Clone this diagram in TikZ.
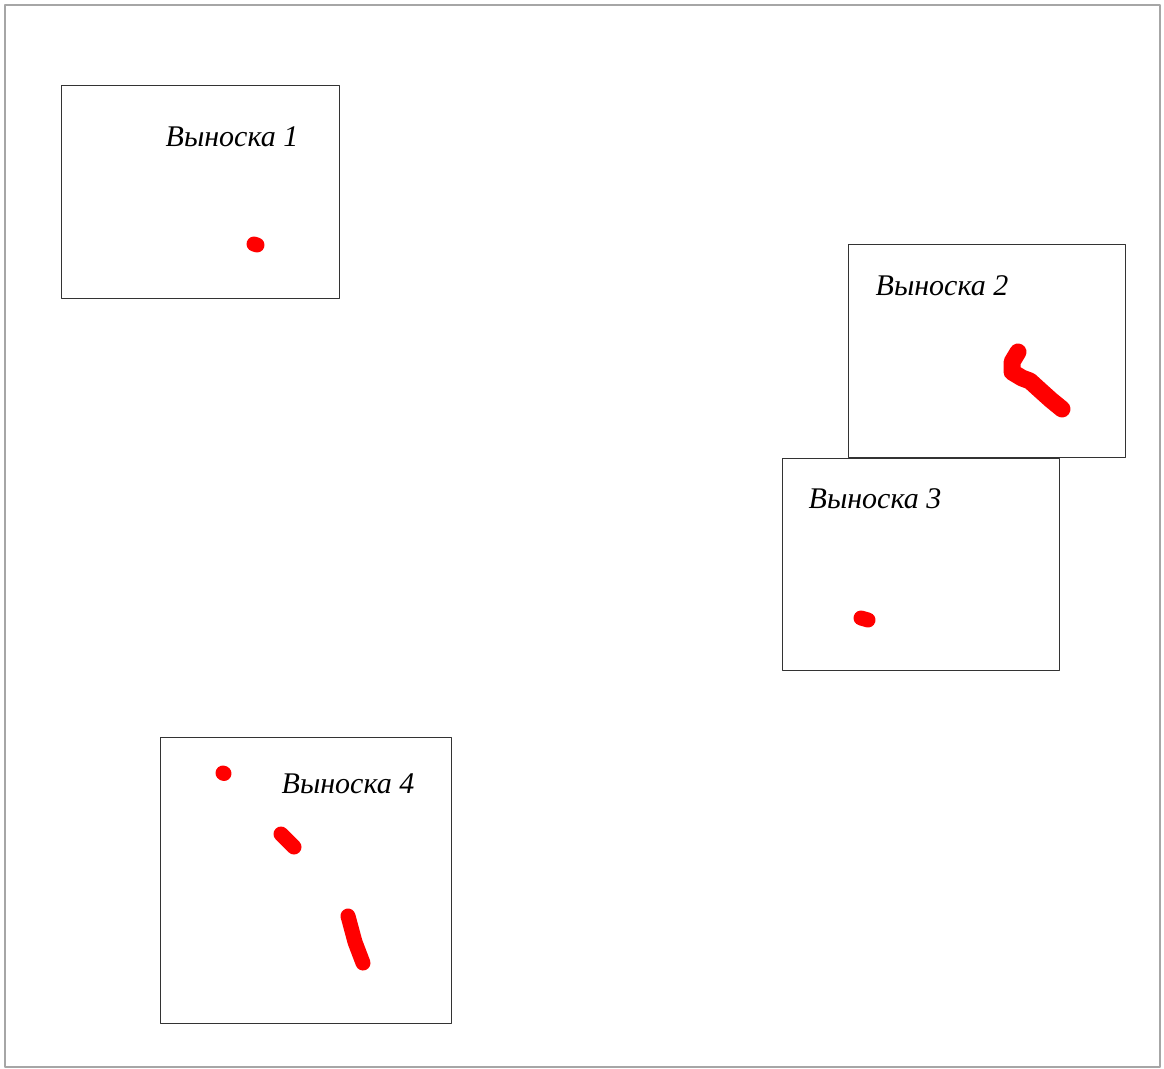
\documentclass[tikz,border=0pt]{standalone}
\usepackage{fontspec}
\setmainfont{Liberation Serif}
\begin{document}
\begin{tikzpicture}[line cap=round, line join=round, x=1pt, y=-1pt, font=\fontsize{30}{34}\selectfont\itshape]
    \useasboundingbox (0,0) rectangle (1164,1068);
    \draw[gray!70, line width=1.2](5,5)rectangle(1160,1067);
    % callout boxes with labels
    \foreach \n/\xa/\ya/\w/\h/\tx/\ty in{1/61/85/278/213/232/137,2/848/244/277/213/942/286,3/782/458/277/212/875/499,4/160/737/291/286/348/784}
    {
        \node[draw=black!80, line width=.6, minimum width=\w, minimum height=\h, inner sep=0, anchor=north west](box\n) at (\xa,\ya){};
        \node(label\n) at (\tx,\ty){Выноска \n};
    }
    % red marks
    \begin{scope}[red, line width=15]
        \draw(254,244)--(257,245);
        \draw[line width=17](1018,352)--(1012,362)--(1012,372)--(1022,378)--(1030,381)--(1041,391)--(1051,400)--(1062,409);
        \draw(861,618)--(868,620);
        \draw(223,773)--(224,773.5);
        \draw(281,834)--(294,847);
        \draw(348,916)--(355,942)--(363,963);
    \end{scope}
\end{tikzpicture}
\end{document}
